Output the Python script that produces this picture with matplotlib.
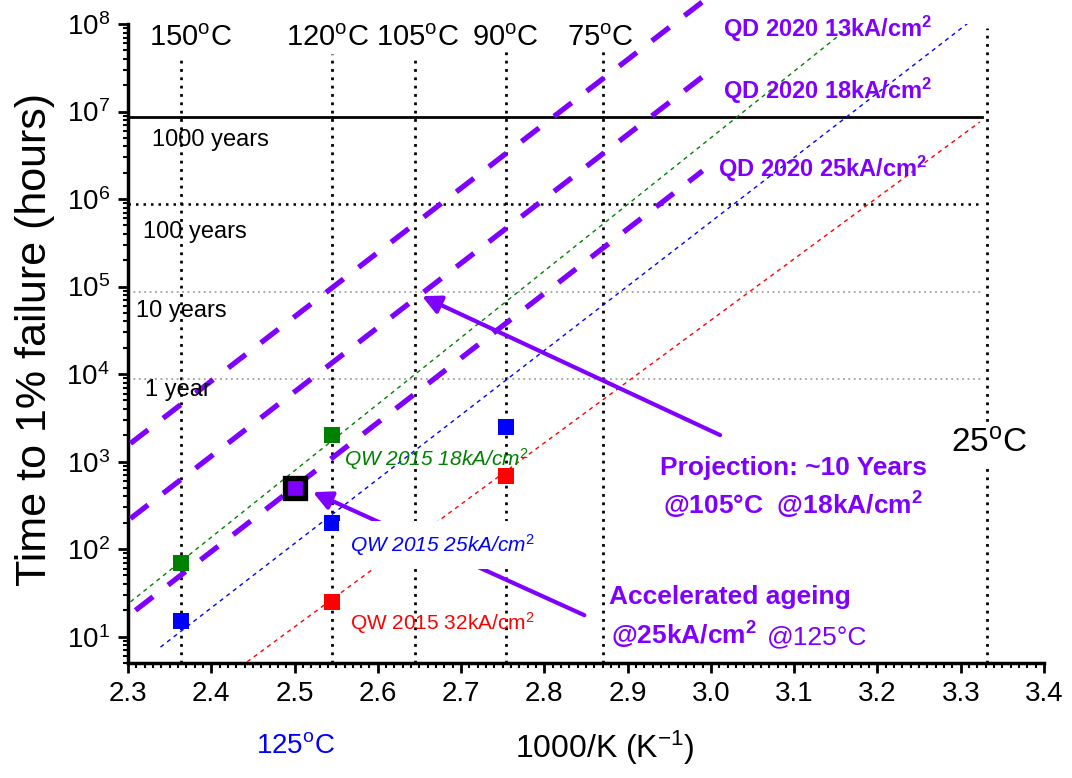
import numpy as np
import matplotlib.pyplot as plt
from matplotlib.ticker import MultipleLocator, FormatStrFormatter, FixedLocator, LogFormatterMathtext

plt.rcParams['font.family'] = ['Liberation Sans', 'DejaVu Sans']
plt.rcParams['mathtext.fontset'] = 'custom'
plt.rcParams['mathtext.rm'] = 'Liberation Sans'
plt.rcParams['mathtext.it'] = 'Liberation Sans:italic'
plt.rcParams['mathtext.bf'] = 'Liberation Sans:bold'

PURPLE = '#8000ff'
GREEN = '#008000'
BLUE = '#0000ff'
RED = '#ff0000'

# temperature guide lines (1000/K)
temp_labels = ['150', '120', '105', '90', '75']
temp_x = [2.364, 2.545, 2.645, 2.754, 2.871]
temp_label_x = [2.375, 2.540, 2.648, 2.753, 2.867]
temp_top = [4.4e7, 4.6e7, 4.4e7, 5.0e7, 5.5e7]
room_x = 3.331
room_top = 9.0e7

# lifetime reference levels (hours)
life_labels = ['1000 years', '100 years', '10 years', '1 year']
life_hours = [8.76e6, 8.76e5, 8.76e4, 8.76e3]

# QW 2015 measured points
qw18_x = [2.364, 2.545]
qw18_y = [70, 2000]
qw25_x = [2.364, 2.545, 2.754]
qw25_y = [15, 198, 2500]
qw32_x = [2.545, 2.754]
qw32_y = [25, 683]

# QW 2015 fit lines (end points)
qw18_fit_x = [2.303, 3.188]
qw18_fit_y = [25.0, 1.35e8]
qw25_fit_x = [2.339, 3.330]
qw25_fit_y = [7.6, 1.47e8]
qw32_fit_x = [2.443, 3.323]
qw32_fit_y = [5.15, 7.6e6]

# QD 2020 projections (end points)
qd13_x = [2.303, 2.990]
qd13_y = [1615, 1.8e8]
qd18_x = [2.303, 2.990]
qd18_y = [224, 2.5e7]
qd25_x = [2.309, 2.990]
qd25_y = [20, 2.1e6]

# accelerated ageing point
qd_age_x = [2.5]
qd_age_y = [500]

fig = plt.figure(figsize=(10.72, 7.78), dpi=100)
ax = fig.add_axes([0.1194, 0.1478, 0.8545, 0.8213])
ax.set_xlim(2.3, 3.4)
ax.set_yscale('log')
ax.set_ylim(5, 1e8)

# vertical temperature lines
for x, top in zip(temp_x, temp_top):
    ax.plot([x, x], [5, top], color='black', lw=2, ls=(0, (1, 2)), zorder=2)
ax.plot([room_x, room_x], [5, room_top], color='black', lw=2, ls=(0, (1, 2)), zorder=2)

# horizontal lifetime lines
xr = [2.3, 3.325]
ax.plot(xr, [life_hours[0]] * 2, color='black', lw=2, zorder=2)
ax.plot(xr, [life_hours[1]] * 2, color='black', lw=1.8, ls=(0, (1, 2)), zorder=2)
ax.plot(xr, [life_hours[2]] * 2, color='#a0a0a0', lw=1.3, ls=(0, (1, 2)), zorder=2)
ax.plot(xr, [life_hours[3]] * 2, color='#a0a0a0', lw=1.3, ls=(0, (1, 2)), zorder=2)

life_pos = [(2.329, 4.7e6), (2.318, 4.2e5), (2.310, 5.2e4), (2.321, 6.6e3)]
for lab, (x, y) in zip(life_labels, life_pos):
    ax.text(x, y, lab, fontsize=17, va='center', ha='left', zorder=4)

# fit lines
ax.plot(qw18_fit_x, qw18_fit_y, color=GREEN, lw=1, ls=(0, (3, 3)), zorder=3)
ax.plot(qw25_fit_x, qw25_fit_y, color=BLUE, lw=1, ls=(0, (3, 3)), zorder=3)
ax.plot(qw32_fit_x, qw32_fit_y, color=RED, lw=1, ls=(0, (3, 3)), zorder=3)

# QD projections
for xs, ys in [(qd13_x, qd13_y), (qd18_x, qd18_y), (qd25_x, qd25_y)]:
    ax.plot(xs, ys, color=PURPLE, lw=3.8, ls=(0, (4.2, 3.6)), clip_on=False, zorder=3)

# data points
ax.plot(qw18_x, qw18_y, 's', color=GREEN, ms=12, mew=0, zorder=5)
ax.plot(qw25_x, qw25_y, 's', color=BLUE, ms=12, mew=0, zorder=5)
ax.plot(qw32_x, qw32_y, 's', color=RED, ms=12, mew=0, zorder=5)
ax.plot(qd_age_x, qd_age_y, 's', color=PURPLE, ms=14.5, mec='black', mew=3.8, zorder=5)

# arrows
arrow = dict(arrowstyle='-|>', color=PURPLE, lw=3, mutation_scale=28, shrinkA=0, shrinkB=0)
ax.annotate('', xy=(2.653, 7.78e4), xytext=(3.011, 2010), arrowprops=arrow, zorder=4)
ax.annotate('', xy=(2.522, 448), xytext=(2.848, 17.6), arrowprops=arrow, zorder=4)

# temperature labels
for lab, x in zip(temp_labels, temp_label_x):
    ax.text(x, 5.6e7, lab + r'$^{\mathrm{o}}$C', fontsize=21, ha='center', va='baseline',
            clip_on=False, zorder=4)
ax.text(3.288, 1274, r'25$^{\mathrm{o}}$C', fontsize=24, ha='left', va='baseline', zorder=6,
        bbox=dict(facecolor='white', edgecolor='none', pad=4))

# series labels
qd_font = dict(fontsize=17, fontweight='bold', color=PURPLE, ha='left', va='baseline', zorder=6)
ax.text(3.014, 7.1e7, r'QD 2020 13kA/cm$^{\mathbf{2}}$', **qd_font)
ax.text(3.014, 1.39e7, r'QD 2020 18kA/cm$^{\mathbf{2}}$', **qd_font)
ax.text(3.008, 1.8e6, r'QD 2020 25kA/cm$^{\mathbf{2}}$', **qd_font)

ax.text(2.559, 889, r'QW 2015 18kA/cm$^{\mathit{2}}$', fontsize=15, style='italic', color=GREEN,
        ha='left', va='baseline', zorder=6)
ax.text(2.567, 93, r'QW 2015 25kA/cm$^{\mathit{2}}$', fontsize=15, style='italic', color=BLUE,
        ha='left', va='baseline', zorder=6,
        bbox=dict(facecolor='white', edgecolor='none', pad=8))
ax.text(2.566, 11.9, r'QW 2015 32kA/cm$^{2}$', fontsize=15, color=RED,
        ha='left', va='baseline', zorder=6)

note_font = dict(fontsize=19, fontweight='bold', color=PURPLE, ha='left', va='baseline', zorder=6)
ax.text(2.939, 702, 'Projection: ~10 Years', **note_font)
ax.text(2.942, 245, r'@105°C  @18kA/cm$^{\mathbf{2}}$', **note_font)
ax.text(2.878, 23.9, 'Accelerated ageing', **note_font)
ax.text(2.880, 8.15, r'@25kA/cm$^{\mathbf{2}}$', **note_font)
ax.text(3.067, 8.15, '@125°C', fontsize=19, color=PURPLE, ha='left', va='baseline', zorder=6)

# axes styling
for s in ['top', 'right']:
    ax.spines[s].set_visible(False)
for s in ['left', 'bottom']:
    ax.spines[s].set_linewidth(2.5)

ax.xaxis.set_major_locator(MultipleLocator(0.1))
ax.xaxis.set_minor_locator(MultipleLocator(0.01))
ax.xaxis.set_major_formatter(FormatStrFormatter('%.1f'))
decades = [10.0 ** k for k in range(1, 9)]
minors = [m * 10.0 ** k for k in range(0, 8) for m in range(2, 10) if 5 <= m * 10.0 ** k <= 1e8]
ax.yaxis.set_major_locator(FixedLocator(decades))
ax.yaxis.set_minor_locator(FixedLocator(minors))
ax.yaxis.set_major_formatter(LogFormatterMathtext())
ax.tick_params(which='major', direction='out', length=7, width=2, labelsize=20)
ax.tick_params(axis='x', which='major', pad=6)
ax.tick_params(axis='y', which='major', pad=6)
ax.tick_params(which='minor', direction='out', length=3.5, width=1.5)

fig.text(35 / 1072, 1 - 340 / 778, 'Time to 1% failure (hours)', fontsize=31, rotation=90,
         ha='center', va='center')
fig.text(605 / 1072, 1 - 748 / 778, r'1000/K (K$^{\mathrm{-1}}$)', fontsize=23, ha='center', va='center')
fig.text(295 / 1072, 1 - 753 / 778, r'125$^{\mathrm{o}}$C', fontsize=20, color=BLUE, ha='center',
         va='baseline')

fig.savefig('out.png', dpi=100)
